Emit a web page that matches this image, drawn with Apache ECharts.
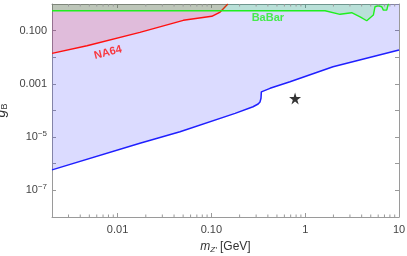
<!DOCTYPE html>
<html><head><meta charset="utf-8">
<script src="https://cdn.jsdelivr.net/npm/echarts@6/dist/echarts.min.js"></script>
<style>html,body{margin:0;padding:0;background:#fff}#c{width:407px;height:256px}</style>
</head><body><div id="c"></div>
<script>
// Blue limit (lower boundary of blue excluded region)
const blueX = [0.002, 0.0173, 0.0463, 0.179, 0.278, 0.315, 0.33, 0.338, 0.341, 0.347, 0.422, 0.689, 1.98, 10];
const blueY = [5.9e-7, 5.9e-6, 1.6e-5, 7.8e-5, 1.38e-4, 1.75e-4, 2.1e-4, 2.9e-4, 5.0e-4, 5.9e-4, 6.8e-4, 1.2e-3, 4.4e-3, 0.0186];
// NA64
const na64X = [0.002, 0.00472, 0.0173, 0.0502, 0.101, 0.124, 0.15];
const na64Y = [0.014, 0.0271, 0.0863, 0.244, 0.345, 0.5, 1.0];
// BaBar
const babarX = [0.002, 1.63, 2.35, 3.13, 3.85, 4.53, 5.33, 5.55, 6.02, 6.55, 6.81, 7.40, 7.64, 7.83];
const babarY = [0.56, 0.56, 0.41, 0.47, 0.33, 0.235, 0.385, 0.79, 0.86, 0.79, 0.59, 0.59, 0.92, 1.0];
// Benchmark point
const starPoint = [0.78, 2.85e-4];
// Region labels
const labelNames = ['NA64', 'BaBar'];
const labelPos = [[0.0079, 0.015], [0.40, 0.31]];
// Ticks
const xTickVals = [0.01, 0.1, 1, 10];
const xTickLabels = ['0.01', '0.10', '1', '10'];
const xMinorTicks = [0.003,0.004,0.005,0.006,0.007,0.008,0.009,
  0.02,0.03,0.04,0.05,0.06,0.07,0.08,0.09,
  0.2,0.3,0.4,0.5,0.6,0.7,0.8,0.9,
  2,3,4,5,6,7,8,9];
const yTickVals = [0.1, 0.001, 1e-5, 1e-7];
const yTickLabels = ['0.100', '0.001', '10{s|\u22125}', '10{s|\u22127}'];

const zip = (a, b) => a.map((v, i) => [v, b[i]]);
const FONT = '"Liberation Sans", Arial, sans-serif';

function fmt(vals, labels) {
  return function (v) {
    for (let i = 0; i < vals.length; i++) {
      if (Math.abs(Math.log10(v) - Math.log10(vals[i])) < 1e-6) return labels[i];
    }
    return '';
  };
}

const frameLine = { show: true, lineStyle: { color: '#9a9a9a', width: 1 } };
const tick = { show: true, inside: true, length: 4, lineStyle: { color: '#9a9a9a' } };

const chart = echarts.init(document.getElementById('c'), null, { renderer: 'canvas' });
chart.setOption({
  animation: false,
  backgroundColor: '#fff',
  grid: { left: 52, right: 8, top: 4, bottom: 39, containLabel: false, outerBoundsMode: 'none' },
  xAxis: [{
    type: 'log', logBase: 10, min: 0.002, max: 10, position: 'bottom',
    axisLine: frameLine, axisTick: tick, splitLine: { show: false },
    axisLabel: { formatter: fmt(xTickVals, xTickLabels), color: '#444', fontSize: 11, fontFamily: FONT, margin: 7, showMinLabel: false },
    name: '{i|m}{sub|Z\u2032} [GeV]', nameLocation: 'middle', nameGap: 23,
    nameTextStyle: { color: '#333', fontSize: 12, fontFamily: FONT,
      rich: { i: { fontStyle: 'italic', fontSize: 12, fontFamily: FONT, color: '#333' },
              sub: { fontStyle: 'italic', fontSize: 8, fontFamily: FONT, color: '#333', padding: [6, 0, 0, 0] } } }
  }, {
    type: 'log', logBase: 10, min: 0.002, max: 10, position: 'top',
    axisLine: frameLine, axisTick: tick, axisLabel: { show: false }, splitLine: { show: false }
  }],
  yAxis: [{
    type: 'log', logBase: 10, min: 1e-8, max: 1, position: 'left',
    axisLine: frameLine, axisTick: tick, splitLine: { show: false },
    axisLabel: { formatter: fmt(yTickVals, yTickLabels), color: '#444', fontSize: 11, fontFamily: FONT, margin: 5,
      rich: { s: { fontSize: 8, fontFamily: FONT, color: '#444', padding: [0, 0, 7, 0] } } },
    name: '{i|g}{sub|B}', nameLocation: 'middle', nameGap: 38, nameRotate: 90,
    nameTextStyle: { color: '#333', fontSize: 13, fontFamily: FONT,
      rich: { i: { fontStyle: 'italic', fontSize: 14, fontFamily: FONT, color: '#333' },
              sub: { fontSize: 9, fontFamily: FONT, color: '#333', padding: [6, 0, 0, 0] } } }
  }, {
    type: 'log', logBase: 10, min: 1e-8, max: 1, position: 'right',
    axisLine: frameLine, axisTick: tick, axisLabel: { show: false }, splitLine: { show: false }
  }],
  series: [
    { type: 'line', name: 'blue', data: zip(blueX, blueY), symbol: 'none', z: 2,
      lineStyle: { color: '#1f1fff', width: 1.5 },
      areaStyle: { origin: 'end', color: 'rgba(0,0,255,0.2)' } },
    { type: 'line', name: 'NA64', data: zip(na64X, na64Y), symbol: 'none', z: 3,
      lineStyle: { color: '#ff1010', width: 1.4 },
      areaStyle: { origin: 'end', color: 'rgba(255,0,0,0.2)' } },
    { type: 'line', name: 'BaBar', data: zip(babarX, babarY), symbol: 'none', z: 4,
      lineStyle: { color: '#1fef1f', width: 1.4 },
      areaStyle: { origin: 'end', color: 'rgba(0,255,0,0.22)' } },
    { type: 'scatter', data: [starPoint], z: 6,
      symbol: 'path://M50,0 L61,35 L98,35 L68,57 L79,91 L50,70 L21,91 L32,57 L2,35 L39,35 Z',
      symbolSize: 12, itemStyle: { color: '#000' } },
    { type: 'scatter', z: 7, symbolSize: 0,
      data: labelPos.map((p, i) => ({ value: p, name: labelNames[i],
        label: { show: true, position: 'inside', formatter: labelNames[i], fontFamily: FONT, fontWeight: 'bold', fontSize: 11,
          color: i === 0 ? '#ff1010' : '#22ee22', rotate: i === 0 ? 14 : 0 } })) },
    { type: 'custom', z: 8, silent: true, clip: false,
      data: xMinorTicks.map(v => [v, 1e-4]),
      renderItem: function (params, api) {
        const x = api.value(0);
        const b = api.coord([x, 1e-8]);
        const t = api.coord([x, 1]);
        const st = { stroke: '#9a9a9a', lineWidth: 1 };
        return { type: 'group', children: [
          { type: 'line', shape: { x1: b[0], y1: b[1], x2: b[0], y2: b[1] - 2.5 }, style: st },
          { type: 'line', shape: { x1: t[0], y1: t[1], x2: t[0], y2: t[1] + 2.5 }, style: st }
        ] };
      } }
  ]
});
</script>
</body></html>
